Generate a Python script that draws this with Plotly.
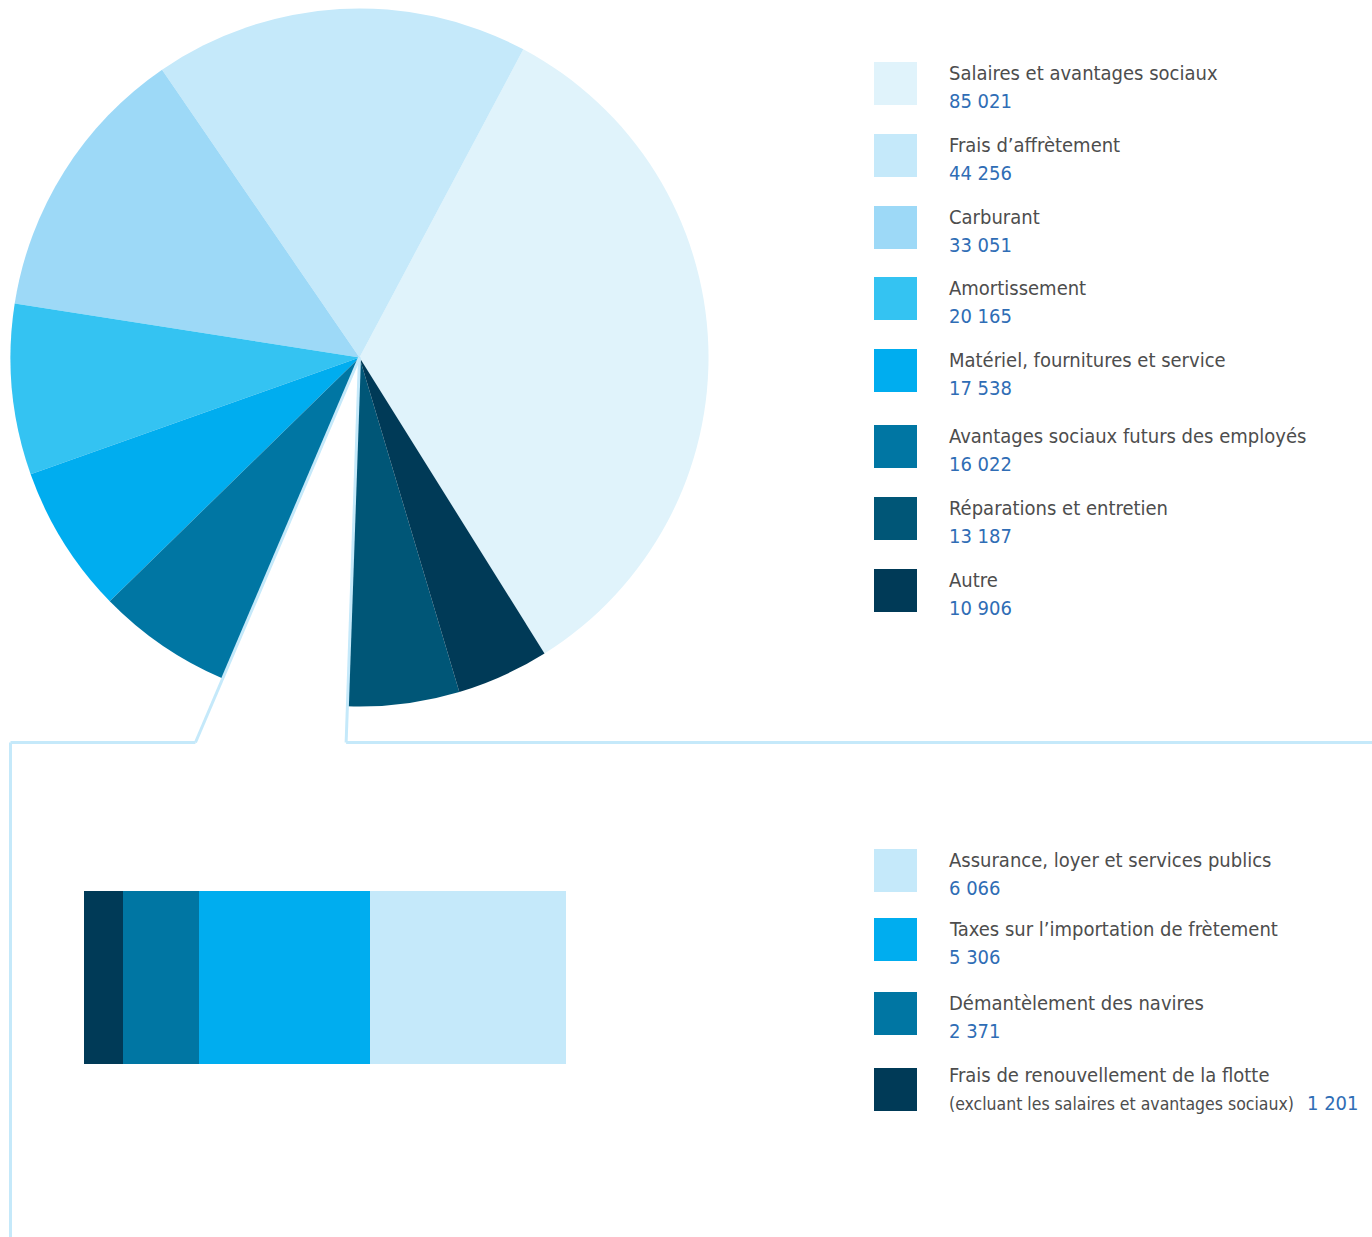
import math
import plotly.graph_objects as go

W, H = 1372, 1237

# ---------------- data ----------------
pie_labels = ["Salaires et avantages sociaux", "Frais d’affrètement", "Carburant",
              "Amortissement", "Matériel, fournitures et service",
              "Avantages sociaux futurs des employés", "Réparations et entretien", "Autre"]
pie_values = [85021, 44256, 33051, 20165, 17538, 16022, 13187, 10906]
pie_colors = ["#e0f3fb", "#c5e9fa", "#9dd9f7", "#34c3f2", "#00adef",
              "#0076a3", "#005677", "#003a57"]

bar_labels = ["Assurance, loyer et services publics", "Taxes sur l’importation de frètement",
              "Démantèlement des navires", "Frais de renouvellement de la flotte"]
bar_values = [6066, 5306, 2371, 1201]
bar_colors = ["#c5e9fa", "#00adef", "#0076a3", "#003a57"]
bar_note = "(excluant les salaires et avantages sociaux)"

gap_label = "Autres charges"
gap_value = sum(bar_values)

# ---------------- layout constants ----------------
FONT = "DejaVu Sans Condensed, Liberation Sans Narrow, Roboto, sans-serif"
TEXT_COL = "#4d4d4d"
VAL_COL = "#2f6db5"
LINE_COL = "#c5e9fa"
CX, CY, R = 359.5, 357.5, 349.0
ROT = 28.0
FS = 20
FS_NOTE = 17.5

def px(x):
    return x / W

def py(y):
    return 1 - y / H

def fmt(v):
    return f"{v:,}".replace(",", " ")

# pie order (counterclockwise): first six, gap, last two
p_labels = pie_labels[:6] + [gap_label] + pie_labels[6:]
p_values = pie_values[:6] + [gap_value] + pie_values[6:]
p_colors = pie_colors[:6] + ["#ffffff"] + pie_colors[6:]

fig = go.Figure()
fig.add_trace(go.Pie(
    labels=p_labels, values=p_values, sort=False, direction="counterclockwise",
    rotation=ROT, textinfo="none", showlegend=False,
    marker=dict(colors=p_colors, line=dict(width=0)),
    domain=dict(x=[px(CX - R), px(CX + R)], y=[py(CY + R), py(CY - R)]),
))

# stacked bar (left to right: smallest first)
for lab, val, col in reversed(list(zip(bar_labels, bar_values, bar_colors))):
    fig.add_trace(go.Bar(
        x=[val], y=[0], orientation="h", name=lab, showlegend=False,
        marker=dict(color=col, line=dict(width=0)),
    ))

# connector geometry from slice angles
total = sum(p_values)
deg = [v / total * 360 for v in p_values]
a_end = ROT - sum(deg[1:6])          # gap / Avantages boundary
a_start = a_end - deg[6]             # Réparations / gap boundary
YC = 742.5

def ray_x(a, y):
    ar = math.radians(a)
    t = (y - CY) / (-math.cos(ar))
    return CX + t * math.sin(ar)

xl = ray_x(a_end, YC)
xr = ray_x(a_start, YC)
XL = 10.5

shapes = []
def seg(x0, y0, x1, y1):
    shapes.append(dict(type="line", xref="paper", yref="paper",
                       x0=px(x0), y0=py(y0), x1=px(x1), y1=py(y1),
                       line=dict(color=LINE_COL, width=3), layer="above"))

seg(CX, CY, xl, YC)
seg(xl, YC, XL, YC)
seg(XL, YC, XL, H + 5)
seg(CX, CY, xr, YC)
seg(xr, YC, W + 5, YC)

annotations = []
def txt(x, y, s, size, color):
    annotations.append(dict(xref="paper", yref="paper", x=px(x), y=py(y), text=s,
                            xanchor="left", yanchor="middle", showarrow=False,
                            font=dict(family=FONT, size=size, color=color)))

SQ_X0, SQ_X1, SQ = 874, 917, 43
TX = 947

pie_tops = [62, 134, 206, 277, 349, 425, 497, 569]
for lab, val, col, top in zip(pie_labels, pie_values, pie_colors, pie_tops):
    shapes.append(dict(type="rect", xref="paper", yref="paper",
                       x0=px(SQ_X0), x1=px(SQ_X1), y0=py(top + SQ), y1=py(top),
                       fillcolor=col, line=dict(width=0)))
    txt(TX, top + 11, lab, FS, TEXT_COL)
    txt(TX, top + 39, fmt(val), FS, VAL_COL)

bar_tops = [849, 918, 992, 1068]
for i, (lab, val, col, top) in enumerate(zip(bar_labels, bar_values, bar_colors, bar_tops)):
    shapes.append(dict(type="rect", xref="paper", yref="paper",
                       x0=px(SQ_X0), x1=px(SQ_X1), y0=py(top + SQ), y1=py(top),
                       fillcolor=col, line=dict(width=0)))
    if i < 3:
        txt(TX, top + 11, lab, FS, TEXT_COL)
        txt(TX, top + 39, fmt(val), FS, VAL_COL)
    else:
        txt(TX, top + 7, lab, FS, TEXT_COL)
        txt(TX, top + 36, bar_note, FS_NOTE, TEXT_COL)
        txt(1305, top + 35, fmt(val), FS, VAL_COL)

fig.update_layout(
    width=W, height=H, margin=dict(l=0, r=0, t=0, b=0),
    paper_bgcolor="white", plot_bgcolor="white",
    barmode="stack", bargap=0,
    xaxis=dict(domain=[px(84), px(566)], range=[0, gap_value], visible=False, fixedrange=True),
    yaxis=dict(domain=[py(1064), py(891)], range=[-0.5, 0.5], visible=False, fixedrange=True),
    shapes=shapes, annotations=annotations,
    font=dict(family=FONT),
)

fig.write_html("out.html")
